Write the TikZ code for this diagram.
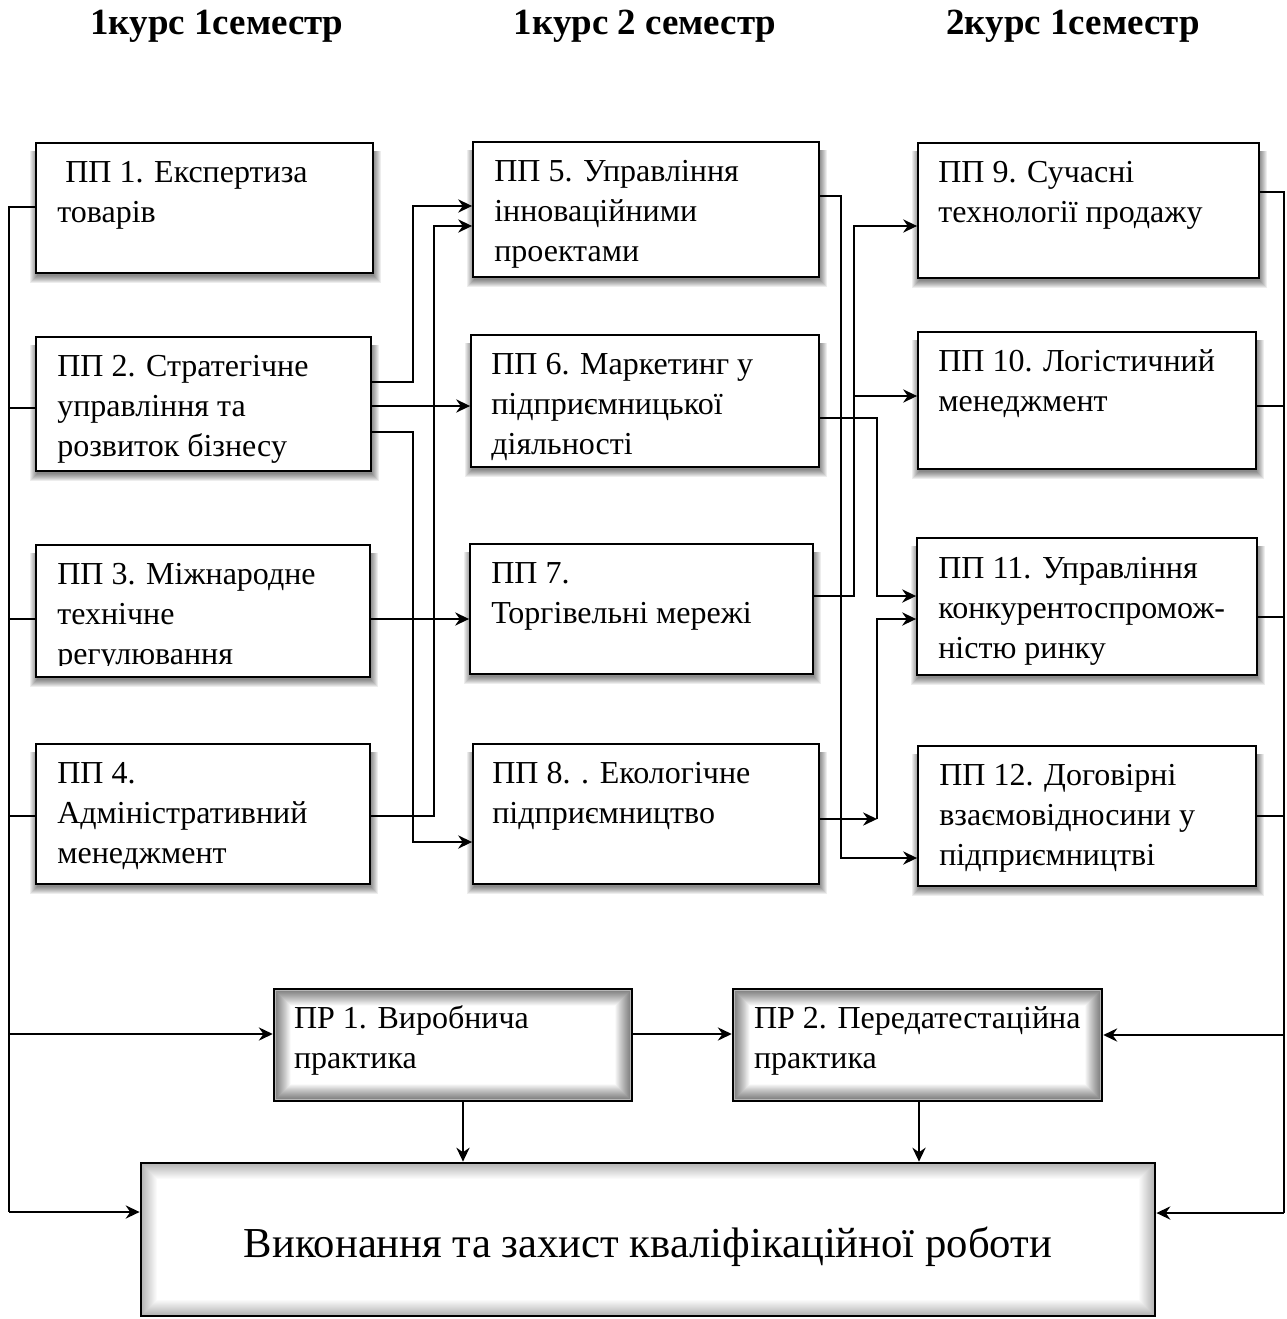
\documentclass[tikz,border=0pt]{standalone}
\usepackage{fontspec}
\setmainfont{Liberation Serif}
\usetikzlibrary{arrows.meta,calc,fit}
\newcommand\dropshadow[4]{\foreach \k in {0,...,7}{\fill[black,opacity=0.07] (#1+1-\k,#2+8) rectangle (#3+1+\k,#4+3+\k);}}
\newcommand\innershadow[1]{\foreach \k in {3,...,17}{\pgfmathsetmacro\op{0.28*(1-(\k-3)/15)}\draw[line width=1.2pt,draw opacity=\op] ($(#1.north west)+(\k,\k)$) rectangle ($(#1.south east)-(\k,\k)$);}}
\begin{document}
\begin{tikzpicture}[x=0.75pt,y=-0.75pt,
  conn/.style={line width=1pt},
  arr/.style={line width=1pt,-{Stealth[length=10.5pt,width=10pt,inset=3.5pt]}},
  ppbox/.style={draw,line width=1.4pt,fill=white,inner sep=0pt},
  prbox/.style={draw,line width=1.9pt,fill=white,inner sep=0pt},
  txt/.style={anchor=north west,inner sep=0pt,align=left,font=\fontsize{24}{30}\selectfont},
  hdr/.style={anchor=base,inner sep=0pt,font=\fontsize{27.7}{32}\selectfont\bfseries},
  big/.style={anchor=base,inner sep=0pt,font=\fontsize{32}{38}\selectfont}]
\useasboundingbox (0,0) rectangle (1286,1319);
\fill[white] (0,0) rectangle (1286,1319);

% headers
\node[hdr] (h1) at (217,35) {1курс 1семестр};
\node[hdr] (h2) at (645,35) {1курс 2 семестр};
\node[hdr] (h3) at (1073,35) {2курс 1семестр};

% column 1
\dropshadow{36}{143}{373}{273}
\node[ppbox,fit={(36,143) (373,273)}] (p1) {};
\node[txt] (p1t) at ($(p1.north west)+(22,12)$) {\strut\hspace*{0.25em}ПП 1. Експертиза\\товарів};

\dropshadow{36}{337}{371}{471}
\node[ppbox,fit={(36,337) (371,471)}] (p2) {};
\node[txt] (p2t) at ($(p2.north west)+(22,12)$) {\strut ПП 2. Стратегічне\\управління та\\розвиток бізнесу};

\dropshadow{36}{545}{370}{677}
\node[ppbox,fit={(36,545) (370,677)}] (p3) {};
\begin{scope}
\clip (36,545) rectangle (370,665);
\node[txt] (p3t) at ($(p3.north west)+(22,12)$) {\strut ПП 3. Міжнародне\\технічне\\регулювання};
\end{scope}

\dropshadow{36}{744}{370}{884}
\node[ppbox,fit={(36,744) (370,884)}] (p4) {};
\node[txt] (p4t) at ($(p4.north west)+(22,12)$) {\strut ПП 4.\\Адміністративний\\менеджмент};

% column 2
\dropshadow{473}{142}{819}{277}
\node[ppbox,fit={(473,142) (819,277)}] (p5) {};
\node[txt] (p5t) at ($(p5.north west)+(22,12)$) {\strut ПП 5. Управління\\інноваційними\\проектами};

\dropshadow{471}{335}{819}{467}
\node[ppbox,fit={(471,335) (819,467)}] (p6) {};
\node[txt] (p6t) at ($(p6.north west)+(21,12)$) {\strut ПП 6. Маркетинг у\\підприємницької\\діяльності};

\dropshadow{470}{544}{813}{674}
\node[ppbox,fit={(470,544) (813,674)}] (p7) {};
\node[txt] (p7t) at ($(p7.north west)+(22,12)$) {\strut ПП 7.\\Торгівельні мережі};

\dropshadow{473}{744}{819}{884}
\node[ppbox,fit={(473,744) (819,884)}] (p8) {};
\node[txt] (p8t) at ($(p8.north west)+(20,12)$) {\strut ПП 8. . Екологічне\\підприємництво};

% column 3
\dropshadow{918}{143}{1259}{278}
\node[ppbox,fit={(918,143) (1259,278)}] (p9) {};
\node[txt] (p9t) at ($(p9.north west)+(21,12)$) {\strut ПП 9. Сучасні\\технології продажу};

\dropshadow{918}{332}{1256}{469}
\node[ppbox,fit={(918,332) (1256,469)}] (p10) {};
\node[txt] (p10t) at ($(p10.north west)+(21,12)$) {\strut ПП 10. Логістичний\\менеджмент};

\dropshadow{917}{538}{1257}{675}
\node[ppbox,fit={(917,538) (1257,675)}] (p11) {};
\node[txt] (p11t) at ($(p11.north west)+(22,13)$) {\strut ПП 11. Управління\\конкурентоспромож-\\ністю ринку};

\dropshadow{918}{746}{1256}{886}
\node[ppbox,fit={(918,746) (1256,886)}] (p12) {};
\node[txt] (p12t) at ($(p12.north west)+(22,12)$) {\strut ПП 12. Договірні\\взаємовідносини у\\підприємництві};

% practice boxes
\node[prbox,fit={(274,989) (632,1101)}] (pr1) {};
\innershadow{pr1}
\node[txt] (pr1t) at ($(pr1.north west)+(21,12)$) {\strut ПР 1. Виробнича\\практика};

\node[prbox,fit={(733,989) (1102,1101)}] (pr2) {};
\innershadow{pr2}
\node[txt] (pr2t) at ($(pr2.north west)+(22,12)$) {\strut ПР 2. Передатестаційна\\практика};

\node[prbox,line width=2.1pt,fit={(141,1163) (1155,1316)}] (fin) {};
\innershadow{fin}
\node[big] (fint) at (648,1257) {Виконання та захист кваліфікаційної роботи};

% left bus
\coordinate (L1) at (9,207); \coordinate (L2) at (9,408); \coordinate (L3) at (9,619);
\coordinate (L4) at (9,816); \coordinate (L5) at (9,1034); \coordinate (L6) at (9,1212);
\draw[conn] (p1.west |- L1) -- (L1) -- (L6);
\draw[conn] (L2) -- (p2.west |- L2);
\draw[conn] (L3) -- (p3.west |- L3);
\draw[conn] (L4) -- (p4.west |- L4);
\draw[arr] (L5) -- (pr1.west |- L5);
\draw[arr] (L6) -- (fin.west |- L6);

% right bus
\coordinate (R1) at (1284,192); \coordinate (R2) at (1284,406); \coordinate (R3) at (1284,617);
\coordinate (R4) at (1284,816); \coordinate (R5) at (1284,1035); \coordinate (R6) at (1284,1213);
\draw[conn] (p9.east |- R1) -- (R1) -- (R6);
\draw[conn] (p10.east |- R2) -- (R2);
\draw[conn] (p11.east |- R3) -- (R3);
\draw[conn] (p12.east |- R4) -- (R4);
\draw[arr] (R5) -- (pr2.east |- R5);
\draw[arr] (R6) -- (fin.east |- R6);

% column 1 -> column 2
\coordinate (a1) at (413,382); \coordinate (a2) at (413,206);
\draw[arr] (p2.east |- a1) -- (a1) -- (a2) -- (p5.west |- a2);
\coordinate (b1) at (434,816); \coordinate (b2) at (434,226);
\draw[arr] (p4.east |- b1) -- (b1) -- (b2) -- (p5.west |- b2);
\coordinate (c1) at (420,406);
\draw[arr] (p2.east |- c1) -- (p6.west |- c1);
\coordinate (d1) at (413,432); \coordinate (d2) at (413,842);
\draw[arr] (p2.east |- d1) -- (d1) -- (d2) -- (p8.west |- d2);
\coordinate (e1) at (420,619);
\draw[arr] (p3.east |- e1) -- (p7.west |- e1);

% column 2 -> column 3
\coordinate (f1) at (841,196); \coordinate (f2) at (841,858);
\draw[arr] (p5.east |- f1) -- (f1) -- (f2) -- (p12.west |- f2);
\coordinate (g1) at (854,596); \coordinate (g2) at (854,226); \coordinate (g3) at (854,396);
\draw[arr] (p7.east |- g1) -- (g1) -- (g2) -- (p9.west |- g2);
\draw[arr] (g3) -- (p10.west |- g3);
\coordinate (m1) at (877,418); \coordinate (m2) at (877,596);
\draw[arr] (p6.east |- m1) -- (m1) -- (m2) -- (p11.west |- m2);
\coordinate (n1) at (877,819); \coordinate (n2) at (877,619);
\draw[arr] (p8.east |- n1) -- (n1);
\draw[arr] (n1) -- (n2) -- (p11.west |- n2);

% practice connectors
\coordinate (q1) at (700,1034);
\draw[arr] (pr1.east |- q1) -- (pr2.west |- q1);
\coordinate (k1) at (463,1130); \coordinate (k2) at (919,1130);
\draw[arr] (pr1.south -| k1) -- (fin.north -| k1);
\draw[arr] (pr2.south -| k2) -- (fin.north -| k2);
\end{tikzpicture}
\end{document}
